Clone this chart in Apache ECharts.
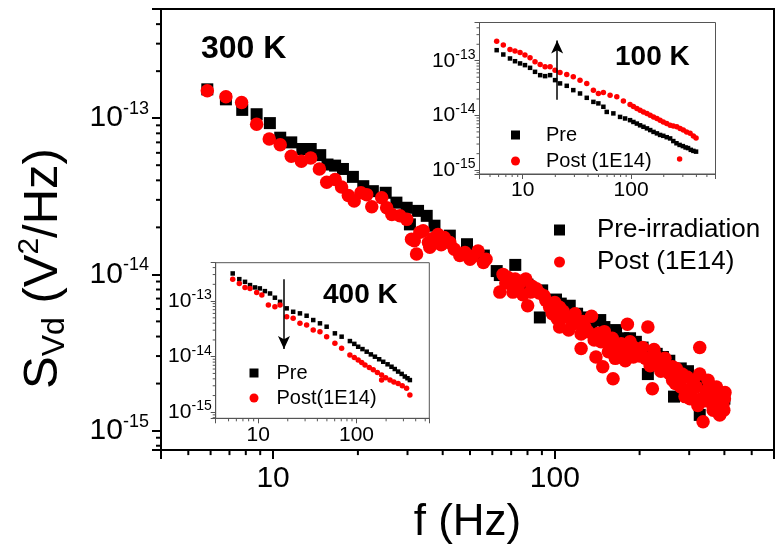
<!DOCTYPE html>
<html><head><meta charset="utf-8">
<script src="https://cdn.jsdelivr.net/npm/echarts@6/dist/echarts.min.js"></script>
<style>html,body{margin:0;padding:0;background:#fff}#c{width:779px;height:552px}</style>
</head><body><div id="c"></div>
<script>
// ---------- data (f in Hz, S in V^2/Hz) ----------
const mainPre = [[5.84,1.53e-13],[6.80,1.32e-13],[7.77,1.13e-13],[8.74,1.06e-13],[9.74,9.3e-14],[10.6,7.5e-14],[11.6,7.0e-14],[12.7,6.35e-14],[13.6,6.35e-14],[14.7,5.8e-14],[15.6,5.05e-14],[16.6,4.97e-14],[17.7,4.73e-14],[19.2,4.21e-14],[20.9,3.67e-14],[22.6,3.41e-14],[25.1,3.33e-14],[27.4,2.88e-14],[29.8,2.67e-14],[30.6,2.09e-14],[32.7,2.55e-14],[35.1,2.37e-14],[37.4,2.05e-14],[41.4,1.60e-14],[42.4,1.77e-14],[48.8,1.56e-14],[56.0,1.32e-14],[62.2,1.05e-14],[63.8,9.9e-15],[72.4,1.15e-14],[80,8.6e-15],[88.5,5.3e-15],[90.2,7.9e-15],[101,6.9e-15],[105,6.5e-15],[110,5.8e-15],[113,6.3e-15],[120,5.6e-15],[127,5.3e-15],[135,4.8e-15],[145,5.1e-15],[150,4.6e-15],[165,4.4e-15],[175,3.9e-15],[185,3.9e-15],[194,3.7e-15],[205,3.4e-15],[214,2.3e-15],[230,3.1e-15],[242,2.96e-15],[255,2.8e-15],[265,1.65e-15],[280,2.5e-15],[297,2.4e-15],[310,2.2e-15],[327,1.26e-15],[340,2.0e-15],[350,1.9e-15],[360,1.7e-15],[370,1.7e-15],[385,1.5e-15],[385,1.32e-15],[395,1.45e-15],[400,1.6e-15]];
const mainPost = [[5.84,1.50e-13],[6.80,1.37e-13],[7.73,1.26e-13],[8.74,9.16e-14],[9.69,7.35e-14],[10.6,6.76e-14],[11.6,5.70e-14],[12.6,5.30e-14],[13.6,5.56e-14],[14.6,4.73e-14],[15.5,3.89e-14],[16.6,4.05e-14],[17.5,3.63e-14],[18.5,3.2e-14],[19.4,2.95e-14],[20.5,3.33e-14],[21.5,3.24e-14],[22.4,2.71e-14],[24.3,3.09e-14],[25.3,2.67e-14],[26.4,2.42e-14],[28.2,2.37e-14],[29.8,2.25e-14],[31.0,1.68e-14],[31.7,1.64e-14],[32.3,1.35e-14],[33.2,1.86e-14],[34.1,1.9e-14],[35.6,1.6e-14],[36.0,1.49e-14],[37,1.7e-14],[38.5,1.80e-14],[39.5,1.55e-14],[40.5,1.72e-14],[42.4,1.60e-14],[44,1.45e-14],[46.0,1.32e-14],[48,1.38e-14],[50.0,1.25e-14],[51,1.3e-14],[53.4,1.41e-14],[55.8,1.19e-14],[57,1.25e-14],[63.8,7.7e-15],[65.5,1.0e-14],[67,8.8e-15],[68,9.6e-15],[70,9.0e-15],[71.0,7.7e-15],[72.3,9.35e-15],[74,8.3e-15],[75,8.8e-15],[77,7.4e-15],[78.9,9.35e-15],[80.1,6.3e-15],[82,7.7e-15],[83,8.4e-15],[86.0,8.1e-15],[88,7.6e-15],[91.6,7.3e-15],[93,6.8e-15],[95.9,6.16e-15],[98,5.6e-15],[100,6.6e-15],[102,5.2e-15],[104,4.6e-15],[104,6.16e-15],[107,5.8e-15],[110,5.32e-15],[112,4.4e-15],[116,4.8e-15],[118,5.6e-15],[120,4.9e-15],[124,4.15e-15],[124,3.35e-15],[126,5.0e-15],[128,4.6e-15],[131,4.3e-15],[135,5.4e-15],[138,3.8e-15],[140,2.96e-15],[143,4.2e-15],[146,3.7e-15],[148,2.56e-15],[150,4.3e-15],[152,3.9e-15],[155,3.2e-15],[157,3.6e-15],[160,3.9e-15],[161,2.15e-15],[164,2.9e-15],[166,3.5e-15],[170,3.1e-15],[172,3.6e-15],[176,3.3e-15],[178,2.8e-15],[181,4.8e-15],[185,3.7e-15],[190,3.43e-15],[190,2.96e-15],[195,3.2e-15],[200,3.0e-15],[205,3.4e-15],[210,2.9e-15],[214,4.6e-15],[218,2.6e-15],[222,1.85e-15],[225,3.3e-15],[228,3.0e-15],[235,2.7e-15],[238,2.4e-15],[242,2.65e-15],[246,2.9e-15],[250,2.4e-15],[256,2.3e-15],[262,2.56e-15],[262,2.1e-15],[268,2.0e-15],[270,2.5e-15],[275,2.2e-15],[280,1.9e-15],[283,2.3e-15],[290,1.65e-15],[295,2.2e-15],[302,1.85e-15],[302,1.6e-15],[305,1.75e-15],[310,2.1e-15],[318,1.9e-15],[322,1.45e-15],[327,3.4e-15],[327,2.3e-15],[331,1.6e-15],[336,1.14e-15],[340,1.55e-15],[345,1.8e-15],[350,2.1e-15],[355,1.94e-15],[360,1.5e-15],[365,1.35e-15],[368,1.65e-15],[372,1.75e-15],[375,1.9e-15],[380,1.45e-15],[385,1.72e-15],[385,1.26e-15],[390,1.55e-15],[395,1.45e-15],[398,1.35e-15],[400,1.6e-15],[402,1.75e-15]];
const pre100 = [[5.76,1.56e-13],[6.63,1.30e-13],[7.64,1.10e-13],[8.50,9.8e-14],[9.46,8.93e-14],[10.5,8.31e-14],[11.7,7.42e-14],[13.0,6.27e-14],[14.5,5.45e-14],[16.1,5.23e-14],[17.9,5.45e-14],[19.9,4.42e-14],[22.1,3.85e-14],[25.5,3.48e-14],[29.3,2.90e-14],[33.8,2.52e-14],[39.0,2.10e-14],[44.9,1.77e-14],[49.9,1.66e-14],[55.5,1.44e-14],[59.6,1.16e-14],[68.6,1.09e-14],[79.1,9.4e-15],[88,8.8e-15],[97.8,8.2e-15],[105,7.6e-15],[113,7.1e-15],[121,6.6e-15],[130,6.2e-15],[140,5.8e-15],[150,5.4e-15],[161,5.0e-15],[173,4.7e-15],[185,4.4e-15],[198,4.24e-15],[213,4.0e-15],[229,3.8e-15],[245,3.4e-15],[262,3.1e-15],[280,2.89e-15],[300,2.75e-15],[318,2.6e-15],[335,2.53e-15],[355,2.35e-15],[375,2.25e-15],[397,2.18e-15]];
const post100 = [[5.76,2.28e-13],[6.63,1.93e-13],[7.64,1.61e-13],[8.50,1.50e-13],[9.46,1.42e-13],[10.5,1.27e-13],[11.7,1.13e-13],[13.0,9.55e-14],[14.5,8.56e-14],[16.1,7.73e-14],[17.9,7.73e-14],[19.9,6.73e-14],[22.1,6.11e-14],[25.5,5.62e-14],[29.3,5.08e-14],[33.8,4.42e-14],[39.0,3.85e-14],[44.9,2.90e-14],[49.9,2.52e-14],[55.5,2.63e-14],[64.0,2.35e-14],[73.8,2.19e-14],[84.9,1.83e-14],[97.8,1.59e-14],[105,1.45e-14],[113,1.34e-14],[121,1.25e-14],[130,1.16e-14],[140,1.08e-14],[150,1.01e-14],[161,9.4e-15],[173,8.8e-15],[185,8.2e-15],[198,7.6e-15],[213,7.1e-15],[229,6.65e-15],[245,6.4e-15],[264,6.2e-15],[283,5.8e-15],[303,5.4e-15],[325,5.0e-15],[350,4.7e-15],[375,4.2e-15],[397,3.85e-15],[280,1.59e-15]];
const pre400 = [[5.51,3.14e-13],[6.43,2.48e-13],[7.35,2.22e-13],[8.26,1.94e-13],[9.28,1.76e-13],[10.4,1.69e-13],[11.7,1.51e-13],[13.2,1.37e-13],[14.8,1.15e-13],[16.7,9.7e-14],[19.5,7.4e-14],[22.7,6.42e-14],[26.6,6.01e-14],[31.1,5.45e-14],[36.3,4.56e-14],[42.5,3.98e-14],[49.7,3.46e-14],[60.3,2.63e-14],[70.6,2.29e-14],[85.7,1.91e-14],[95,1.7e-14],[104,1.51e-14],[115,1.37e-14],[127,1.23e-14],[140,1.1e-14],[154,1.0e-14],[170,9.0e-15],[187,8.1e-15],[207,7.3e-15],[227,6.6e-15],[245,6.0e-15],[265,5.4e-15],[288,4.9e-15],[310,4.4e-15],[330,4.1e-15],[349,3.8e-15]];
const post400 = [[5.51,2.48e-13],[6.43,2.08e-13],[7.35,1.76e-13],[8.26,1.69e-13],[9.66,1.43e-13],[10.9,1.28e-13],[12.7,8.5e-14],[14.8,7.9e-14],[16.7,8.5e-14],[19.5,5.22e-14],[22.7,4.89e-14],[26.6,3.98e-14],[31.1,3.71e-14],[36.3,3.02e-14],[42.5,2.81e-14],[49.7,2.29e-14],[60.3,1.74e-14],[70.6,1.42e-14],[85.7,1.07e-14],[95,9.7e-15],[104,8.7e-15],[113,7.9e-15],[122,7.1e-15],[135,6.4e-15],[148,5.8e-15],[163,5.2e-15],[180,4.7e-15],[198,4.2e-15],[219,3.8e-15],[240,3.5e-15],[265,3.3e-15],[292,3.0e-15],[323,2.7e-15],[349,2.05e-15],[180,3.8e-15]];
// arrows: [f, S_from, S_to]
const arrow100 = [20.8, 1.93e-14, 2.34e-13];
const arrow400 = [18.3, 2.48e-13, 1.37e-14];
// minor tick values
const xMinorVals = [5,6,7,8,9,20,30,40,50,60,70,80,90,200,300,400,500];
const yMinorVals = [8e-16,9e-16,2e-15,3e-15,4e-15,5e-15,6e-15,7e-15,8e-15,9e-15,2e-14,3e-14,4e-14,5e-14,6e-14,7e-14,8e-14,9e-14,2e-13,3e-13,4e-13];
// axis ranges
const ranges = [
  {x:[4,600], y:[7.5e-16,5e-13]},
  {x:[4,600], y:[8.5e-16,5e-13]},
  {x:[3.7,550], y:[7.8e-16,4.9e-13]}
];

const FONT = '"Liberation Sans", Arial, sans-serif';
function isPow10(v){ const e=Math.log10(v); return Math.abs(e-Math.round(e))<1e-6; }
function decLabel(v){ return isPow10(v) ? String(Math.round(v)) : ''; }
function supLabel(v){ return isPow10(v) ? '{b|10}{s|' + Math.round(Math.log10(v)) + '}' : ''; }

function minorTicks(idx, dir, len, color, width){
  const r = ranges[idx];
  const data = dir === 'x'
    ? xMinorVals.filter(v => v > r.x[0] && v < r.x[1]).map(v => [v, r.y[0]])
    : yMinorVals.filter(v => v > r.y[0] && v < r.y[1]).map(v => [r.x[0], v]);
  return {
    type:'custom', xAxisIndex:idx, yAxisIndex:idx, silent:true, clip:false, z:5, data,
    renderItem(params, api){
      const p = api.coord([api.value(0), api.value(1)]);
      const shape = dir === 'x' ? {x1:p[0], y1:p[1], x2:p[0], y2:p[1]+len} : {x1:p[0], y1:p[1], x2:p[0]-len, y2:p[1]};
      return {type:'line', shape, style:{stroke:color, lineWidth:width}};
    }
  };
}

function xAx(idx, main){
  return {
    type:'log', gridIndex:idx, min:ranges[idx].x[0], max:ranges[idx].x[1],
    axisLine:{lineStyle:{color: main ? '#000' : '#555', width: main ? 2 : 1}},
    axisTick:{length: main ? 9 : 5, lineStyle:{color: main ? '#000' : '#555', width: main ? 2 : 1}},
    axisLabel:{formatter:decLabel, fontSize: main ? 30 : 21, color:'#000', fontFamily:FONT, margin: main ? 14 : 6},
    splitLine:{show:false}
  };
}
function yAx(idx, main){
  return {
    type:'log', gridIndex:idx, min:ranges[idx].y[0], max:ranges[idx].y[1],
    axisLine:{lineStyle:{color: main ? '#000' : '#555', width: main ? 2 : 1}},
    axisTick:{length: main ? 9 : 5, lineStyle:{color: main ? '#000' : '#555', width: main ? 2 : 1}},
    axisLabel:{formatter:supLabel, color:'#000', margin: main ? 12 : 4,
      rich: main ? {
        b:{fontSize:30, lineHeight:36, fontFamily:FONT, color:'#000'},
        s:{fontSize:18, lineHeight:16, verticalAlign:'top', fontFamily:FONT, color:'#000'}
      } : {
        b:{fontSize:21, lineHeight:26, fontFamily:FONT, color:'#000'},
        s:{fontSize:14, lineHeight:12, verticalAlign:'top', fontFamily:FONT, color:'#000'}
      }},
    splitLine:{show:false}
  };
}

const xAxes = [xAx(0,true), xAx(1,false), xAx(2,false)];
xAxes[0].name = 'f (Hz)';
xAxes[0].nameLocation = 'middle';
xAxes[0].nameGap = 44;
xAxes[0].nameTextStyle = {fontSize:44, lineHeight:48, fontFamily:FONT, color:'#000'};
const yAxes = [yAx(0,true), yAx(1,false), yAx(2,false)];
yAxes[0].name = '{a|S}{sub|Vd}{a| (V}{sup|2}{a|/Hz)}';
yAxes[0].nameLocation = 'middle';
yAxes[0].nameGap = 90;
yAxes[0].nameTextStyle = {
  padding:[0,78,0,0],
  rich:{
    a:{fontSize:49, lineHeight:56, fontFamily:FONT, color:'#000'},
    sub:{fontSize:32, lineHeight:32, verticalAlign:'bottom', fontFamily:FONT, color:'#000'},
    sup:{fontSize:30, lineHeight:28, verticalAlign:'top', fontFamily:FONT, color:'#000'}
  }
};

const arrowLine = (a) => ({
  silent:true, symbol:['none','arrow'], symbolSize:[9,13], label:{show:false},
  lineStyle:{color:'#000', width:1.5, type:'solid'}, emphasis:{disabled:true},
  data:[[{coord:[a[0], a[1]]},{coord:[a[0], a[2]]}]]
});

const option = {
  animation:false,
  backgroundColor:'#fff',
  grid:[
    {left:161, top:9, width:613, height:445, show:true, borderColor:'#000', borderWidth:2, backgroundColor:'transparent'},
    {left:479.5, top:22.5, width:236, height:151.5, show:true, borderColor:'#555', borderWidth:1, backgroundColor:'#fff'},
    {left:215.7, top:262.7, width:213.6, height:155.6, show:true, borderColor:'#555', borderWidth:1, backgroundColor:'#fff'}
  ],
  xAxis: xAxes,
  yAxis: yAxes,
  legend:[
    {data:['Pre-irradiation','Post (1E14)'], orient:'vertical', left:549, top:212, itemWidth:11, itemHeight:11, itemGap:6,
     selectedMode:false, textStyle:{fontSize:26, lineHeight:26, fontFamily:FONT, color:'#000', padding:[0,0,0,27]}},
    {data:['Pre','Post (1E14)'], orient:'vertical', left:506, top:120, itemWidth:9, itemHeight:9, itemGap:6,
     selectedMode:false, textStyle:{fontSize:20, lineHeight:20, fontFamily:FONT, color:'#000', padding:[0,0,0,21]}},
    {data:['Pre','Post(1E14)'], orient:'vertical', left:244.5, top:358, itemWidth:9, itemHeight:9, itemGap:5,
     selectedMode:false, textStyle:{fontSize:20, lineHeight:20, fontFamily:FONT, color:'#000', padding:[0,0,0,13]}}
  ],
  graphic:[
    {type:'text', left:201, top:33, style:{text:'300 K', font:'bold 32px ' + FONT, fill:'#000'}},
    {type:'text', left:615, top:43, style:{text:'100 K', font:'bold 28px ' + FONT, fill:'#000'}},
    {type:'text', left:323, top:281, style:{text:'400 K', font:'bold 28px ' + FONT, fill:'#000'}}
  ],
  series:[
    {name:'Pre-irradiation', type:'scatter', xAxisIndex:0, yAxisIndex:0, symbol:'rect', symbolSize:12, itemStyle:{color:'#000', opacity:1}, data:mainPre, z:2},
    {name:'Post (1E14)', type:'scatter', xAxisIndex:0, yAxisIndex:0, symbol:'circle', symbolSize:13.5, itemStyle:{color:'#ff0000', opacity:1}, data:mainPost, z:3},
    {name:'Pre', type:'scatter', xAxisIndex:1, yAxisIndex:1, symbol:'rect', symbolSize:4.5, itemStyle:{color:'#000', opacity:1}, data:pre100, z:4, markLine:arrowLine(arrow100)},
    {name:'Post (1E14)', type:'scatter', xAxisIndex:1, yAxisIndex:1, symbol:'circle', symbolSize:5.5, itemStyle:{color:'#ff0000', opacity:1}, data:post100, z:4},
    {name:'Pre', type:'scatter', xAxisIndex:2, yAxisIndex:2, symbol:'rect', symbolSize:4.5, itemStyle:{color:'#000', opacity:1}, data:pre400, z:4, markLine:arrowLine(arrow400)},
    {name:'Post(1E14)', type:'scatter', xAxisIndex:2, yAxisIndex:2, symbol:'circle', symbolSize:5.5, itemStyle:{color:'#ff0000', opacity:1}, data:post400, z:4},
    minorTicks(0,'x',5,'#000',2), minorTicks(0,'y',5,'#000',2),
    minorTicks(1,'x',3,'#555',1), minorTicks(1,'y',3,'#555',1),
    minorTicks(2,'x',3,'#555',1), minorTicks(2,'y',3,'#555',1)
  ]
};
const chart = echarts.init(document.getElementById('c'), null, {renderer:'canvas'});
chart.setOption(option);
</script>
</body></html>
